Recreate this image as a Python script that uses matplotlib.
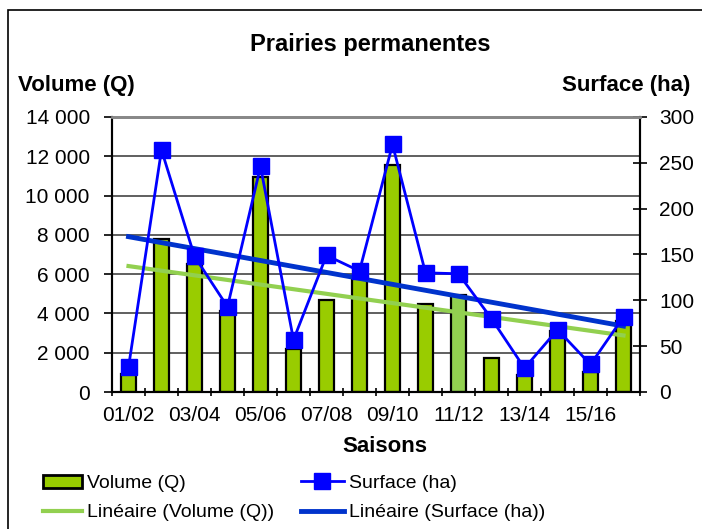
import numpy as np
import matplotlib.pyplot as plt
from matplotlib.patches import Rectangle
from matplotlib.lines import Line2D

plt.rcParams['font.family'] = ['Liberation Sans Narrow', 'Liberation Sans', 'DejaVu Sans']

saisons = ['01/02', '02/03', '03/04', '04/05', '05/06', '06/07', '07/08', '08/09',
           '09/10', '10/11', '11/12', '12/13', '13/14', '14/15', '15/16', '16/17']
volume = [900, 7780, 6500, 4100, 10970, 2200, 4680, 5900,
          11570, 4500, 4930, 1740, 850, 3100, 1000, 3600]
surface = [27, 264, 148, 93, 246, 57, 149, 132,
           270, 130, 129, 80, 26, 68, 30, 82]

x = np.arange(1, len(saisons) + 1)

fig = plt.figure(figsize=(7.02, 5.29), dpi=100)
W, H = 702, 529
ax = fig.add_axes([112 / W, 1 - 392 / H, (640 - 112) / W, (392 - 117) / H])
ax2 = ax.twinx()

# outer frame
fig.patches.append(Rectangle((8 / W, -0.1), 1.2, 1 - 10 / H + 0.1, transform=fig.transFigure,
                             fill=False, edgecolor='black', linewidth=1.2))

colors = ['#99CC00'] * len(x)
colors[10] = '#92D050'
ax.bar(x, volume, width=0.43, color=colors, edgecolor='black', linewidth=1.6, zorder=2)

# trend lines
cv = np.polyfit(x, volume, 1)
ax.plot(x[[0, -1]], np.polyval(cv, x[[0, -1]]), color='#92D050', lw=3, zorder=3)
cs = np.polyfit(x, surface, 1)
ax2.plot(x[[0, -1]], np.polyval(cs, x[[0, -1]]), color='#0033CC', lw=3.5, zorder=3)
ax2.plot(x, surface, color='#0000FF', lw=2, marker='s', markersize=11.5, zorder=4)

ax.set_xlim(0.5, 16.5)
ax.set_ylim(0, 14000)
ax2.set_ylim(0, 300)
ax.set_yticks(range(0, 14001, 2000))
ax.set_yticklabels(['0'] + ['{:,}'.format(v).replace(',', ' ') for v in range(2000, 14001, 2000)])
ax2.set_yticks(range(0, 301, 50))
ax.yaxis.grid(True, color='#444444', lw=1.2)
ax.set_axisbelow(True)

ax.set_xticks(np.arange(0.5, 16.6, 1))
ax.set_xticklabels([])
ax.set_xticks(x[::2], minor=True)
ax.set_xticklabels(saisons[::2], minor=True)
ax.tick_params(axis='x', which='minor', length=0, labelsize=15, pad=10)
ax.tick_params(axis='x', which='major', length=6, width=1.2, direction='inout')
ax.tick_params(axis='y', labelsize=15, length=6, width=1.2, pad=10)
ax2.tick_params(axis='y', labelsize=15, length=10, width=1.2, direction='inout', pad=9)

for a in (ax, ax2):
    a.spines['top'].set_color('#888888')
    a.spines['top'].set_linewidth(2)
    a.spines['left'].set_linewidth(1.5)
    a.spines['right'].set_linewidth(1.5)
    a.spines['bottom'].set_linewidth(1.5)

fig.text(370 / W, 1 - 45 / H, 'Prairies permanentes', ha='center', va='center',
         fontsize=17, fontweight='bold')
fig.text(18 / W, 1 - 85 / H, 'Volume (Q)', ha='left', va='center', fontsize=16, fontweight='bold')
fig.text(690 / W, 1 - 85 / H, 'Surface (ha)', ha='right', va='center', fontsize=16, fontweight='bold')
fig.text(385 / W, 1 - 447 / H, 'Saisons', ha='center', va='center', fontsize=16, fontweight='bold')

h_vol = Rectangle((0, 0), 1, 1, facecolor='#99CC00', edgecolor='black', linewidth=2)
h_surf = Line2D([], [], color='#0000FF', lw=2, marker='s', markersize=11)
h_tv = Line2D([], [], color='#92D050', lw=3)
h_ts = Line2D([], [], color='#0033CC', lw=3.5)

leg1 = fig.legend([h_vol, h_tv], ['Volume (Q)', 'Linéaire (Volume (Q))'],
                  loc='center left', bbox_to_anchor=(33 / W, 1 - 498 / H),
                  frameon=False, fontsize=14, handlelength=2.0, handletextpad=0.3,
                  labelspacing=0.6, borderpad=0)
leg2 = fig.legend([h_surf, h_ts], ['Surface (ha)', 'Linéaire (Surface (ha))'],
                  loc='center left', bbox_to_anchor=(291 / W, 1 - 498 / H),
                  frameon=False, fontsize=14, handlelength=2.2, handletextpad=0.3,
                  labelspacing=0.6, borderpad=0)

fig.savefig('out.png', dpi=100)
